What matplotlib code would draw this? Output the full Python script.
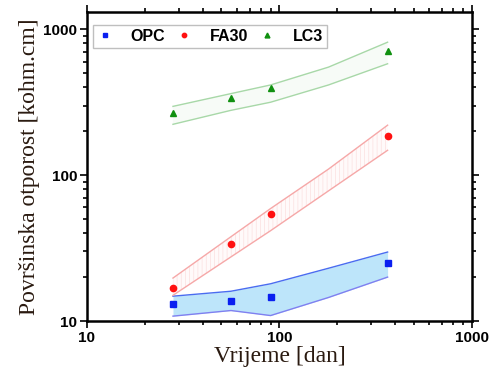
import matplotlib
matplotlib.use("Agg")
import matplotlib.pyplot as plt
from matplotlib.ticker import LogLocator, NullFormatter, FixedLocator

days = [28, 56, 90, 365]
opc = [13.0, 13.8, 14.6, 25.0]
fa30 = [16.8, 33.7, 54.0, 185.0]
lc3 = [266.0, 337.0, 394.0, 707.0]

# rubovi pojaseva (ocitano sa slike)
band_days = [28, 56, 90, 180, 365]
opc_hi = [14.8, 16.0, 18.0, 23.0, 29.7]
opc_lo = [10.8, 11.8, 10.9, 14.5, 20.0]
fa30_hi = [19.7, 37.8, 59.0, 110.0, 220.0]
fa30_lo = [15.0, 27.5, 41.6, 78.0, 148.0]
lc3_hi = [296.0, 362.0, 415.0, 550.0, 815.0]
lc3_lo = [223.0, 278.0, 316.0, 415.0, 580.0]

plt.rcParams["hatch.linewidth"] = 0.5

fig = plt.figure(figsize=(4.91, 3.79), dpi=100)
ax = fig.add_axes([0.177, 0.153, 0.784, 0.815])

ax.fill_between(band_days, opc_lo, opc_hi, color="#bde5fa", lw=0)
ax.plot(band_days, opc_hi, color="#4a6cf0", lw=1.0)
ax.plot(band_days, opc_lo, color="#8080f0", lw=1.0)

ax.fill_between(band_days, fa30_lo, fa30_hi, facecolor="#fffafa", edgecolor="#fbe0e0", hatch="||||", lw=0)
ax.plot(band_days, fa30_hi, color="#f6a8a8", lw=1.0)
ax.plot(band_days, fa30_lo, color="#f6a8a8", lw=1.0)

ax.fill_between(band_days, lc3_lo, lc3_hi, facecolor="#f7fbf7", lw=0)
ax.plot(band_days, lc3_hi, color="#a8d8a8", lw=1.0)
ax.plot(band_days, lc3_lo, color="#a8d8a8", lw=1.0)

ax.plot(days, opc, "s", color="#0a1ff0", ms=4.5, ls="none", label="OPC")
ax.plot(days, fa30, "o", color="#ff1010", ms=4.5, ls="none", label="FA30")
ax.plot(days, lc3, "^", color="#109010", ms=5, ls="none", label="LC3")

ax.set_xscale("log")
ax.set_yscale("log")
ax.set_xlim(10, 1000)
ax.set_ylim(10, 1310)

ax.xaxis.set_major_locator(FixedLocator([10, 100, 1000]))
ax.yaxis.set_major_locator(FixedLocator([10, 100, 1000]))
ax.xaxis.set_minor_locator(LogLocator(base=10, subs=range(2, 10)))
ax.yaxis.set_minor_locator(LogLocator(base=10, subs=range(2, 10)))
ax.xaxis.set_minor_formatter(NullFormatter())
ax.yaxis.set_minor_formatter(NullFormatter())
ax.set_xticklabels(["10", "100", "1000"])
ax.set_yticklabels(["10", "100", "1000"])

ax.tick_params(which="both", direction="out", top=True, right=True, width=1.2)
ax.tick_params(which="major", length=5, labelsize=11, pad=2)
ax.tick_params(which="minor", length=3)
for lab in ax.get_xticklabels() + ax.get_yticklabels():
    lab.set_fontfamily("Liberation Sans")
    lab.set_fontweight("bold")
for sp in ax.spines.values():
    sp.set_linewidth(1.8)

ax.set_xlabel("Vrijeme [dan]", family="Liberation Serif", fontsize=17, color="#2a1a10", labelpad=1)
ax.set_ylabel("Površinska otporost [kohm.cm]", family="Liberation Serif", fontsize=17, color="#2a1a10", labelpad=2)

leg = ax.legend(loc="upper left", ncol=3, prop={"family": "Liberation Sans", "weight": "bold", "size": 11.5},
                markerscale=0.7, handlelength=1.0, handletextpad=1.1, columnspacing=0.7, borderpad=0.25,
                fancybox=False, edgecolor="#b0b0b0", bbox_to_anchor=(-0.005, 0.985))
leg.get_frame().set_linewidth(1.0)

fig.savefig("out.png", dpi=100)
